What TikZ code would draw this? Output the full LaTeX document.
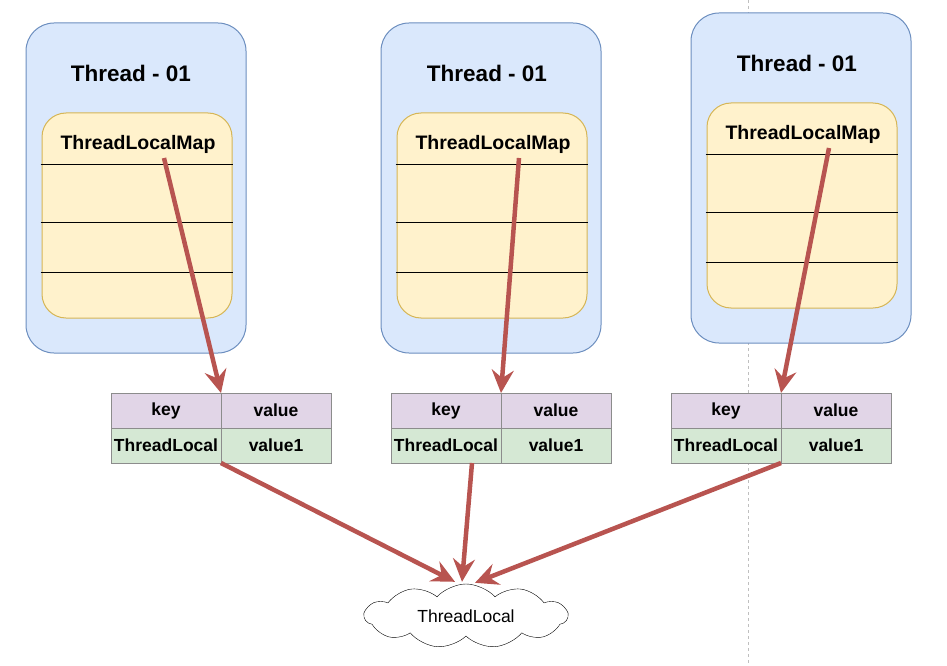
\documentclass[tikz,border=0pt]{standalone}
\usepackage{fontspec}
\setmainfont{Liberation Sans}
\usetikzlibrary{positioning,shapes.symbols,arrows.meta}

\definecolor{threadfill}{HTML}{DAE8FC}
\definecolor{threaddraw}{HTML}{6C8EBF}
\definecolor{mapfill}{HTML}{FFF2CC}
\definecolor{mapdraw}{HTML}{D6B656}
\definecolor{keyfill}{HTML}{E1D5E7}
\definecolor{rowfill}{HTML}{D5E8D4}
\definecolor{celldraw}{HTML}{8C8C8C}
\definecolor{refarrow}{HTML}{B85450}

\tikzset{
  threadbox/.style={draw=threaddraw, line width=1pt, fill=threadfill, rounded corners=28pt, minimum width=220pt, minimum height=330pt},
  mapbox/.style={draw=mapdraw, line width=1pt, fill=mapfill, rounded corners=24pt, minimum width=190pt, minimum height=205pt},
  threadtitle/.style={font=\bfseries\fontsize{22.5}{26}\selectfont},
  maptitle/.style={font=\bfseries\fontsize{19.5}{23}\selectfont},
  headcell/.style={draw=celldraw, line width=1pt, fill=keyfill, minimum width=110pt, minimum height=35pt, inner sep=0pt, outer sep=0pt, font=\bfseries\fontsize{17.5}{20}\selectfont},
  rowcell/.style={headcell, fill=rowfill},
  refline/.style={-{Stealth[length=23pt,width=22pt,inset=8pt]}, line width=4.5pt, refarrow},
}

\begin{document}
\begin{tikzpicture}[x=1pt, y=-1pt]
    \useasboundingbox (0,0) rectangle (947,666);

    % Linea tratteggiata di sfondo
    \draw[gray!50, dashed, line width=0.8pt] (748,0) -- (748,666);

    % Thread
    \node[threadbox] (thread1) at (136,188) {};
    \node[threadbox] (thread2) at (491,188) {};
    \node[threadbox] (thread3) at (801,178) {};
    \node[threadtitle] (title1) at (131,73) {Thread - 01};
    \node[threadtitle] (title2) at (487,73) {Thread - 01};
    \node[threadtitle] (title3) at (797,63) {Thread - 01};

    % ThreadLocalMap con le sue righe
    \node[mapbox] (map1) at (137,215.5) {};
    \node[mapbox] (map2) at (492,215.5) {};
    \node[mapbox] (map3) at (802,205.5) {};
    \node[maptitle] (maplabel1) at (138,144) {ThreadLocalMap};
    \node[maptitle] (maplabel2) at (493,144) {ThreadLocalMap};
    \node[maptitle] (maplabel3) at (803,134) {ThreadLocalMap};
    \foreach \m in {map1,map2,map3} {
        \foreach \d in {52,110,160}
            \draw[line width=0.8pt] ([xshift=-1pt,yshift=-\d pt]\m.north west) -- ([yshift=-\d pt]\m.north east);
    }

    % Tabelle key / value
    \node[headcell] (key1) at (166,410.5) {key};
    \node[headcell, right=0pt of key1] (val1) {value};
    \node[rowcell, below=0pt of key1] (tl1) {ThreadLocal};
    \node[rowcell, below=0pt of val1] (v1) {value1};

    \node[headcell] (key2) at (446,410.5) {key};
    \node[headcell, right=0pt of key2] (val2) {value};
    \node[rowcell, below=0pt of key2] (tl2) {ThreadLocal};
    \node[rowcell, below=0pt of val2] (v2) {value1};

    \node[headcell] (key3) at (726,410.5) {key};
    \node[headcell, right=0pt of key3] (val3) {value};
    \node[rowcell, below=0pt of key3] (tl3) {ThreadLocal};
    \node[rowcell, below=0pt of val3] (v3) {value1};

    % Nuvola ThreadLocal
    \node[cloud, cloud puffs=11, cloud puff arc=95, aspect=3.2, draw, fill=white, minimum width=203pt, minimum height=64pt, font=\fontsize{17.5}{20}\selectfont] (cloud) at (466,616) {ThreadLocal};

    % Frecce dalle mappe alle tabelle
    \coordinate (s1) at (164,158);
    \coordinate (s2) at (519,158);
    \coordinate (s3) at (829,148);
    \draw[refline] (s1) -- (key1.north east);
    \draw[refline] (s2) -- (key2.north east);
    \draw[refline] (s3) -- (key3.north east);

    % Frecce dalle tabelle alla nuvola
    \coordinate (t2) at ([xshift=26pt]tl2.south);
    \draw[refline] (tl1.south east) -- ([xshift=-11pt,yshift=2pt]cloud.north);
    \draw[refline] (t2) -- ([xshift=-4pt,yshift=2pt]cloud.north);
    \draw[refline] (tl3.south east) -- ([xshift=9pt,yshift=1pt]cloud.north);
\end{tikzpicture}
\end{document}
